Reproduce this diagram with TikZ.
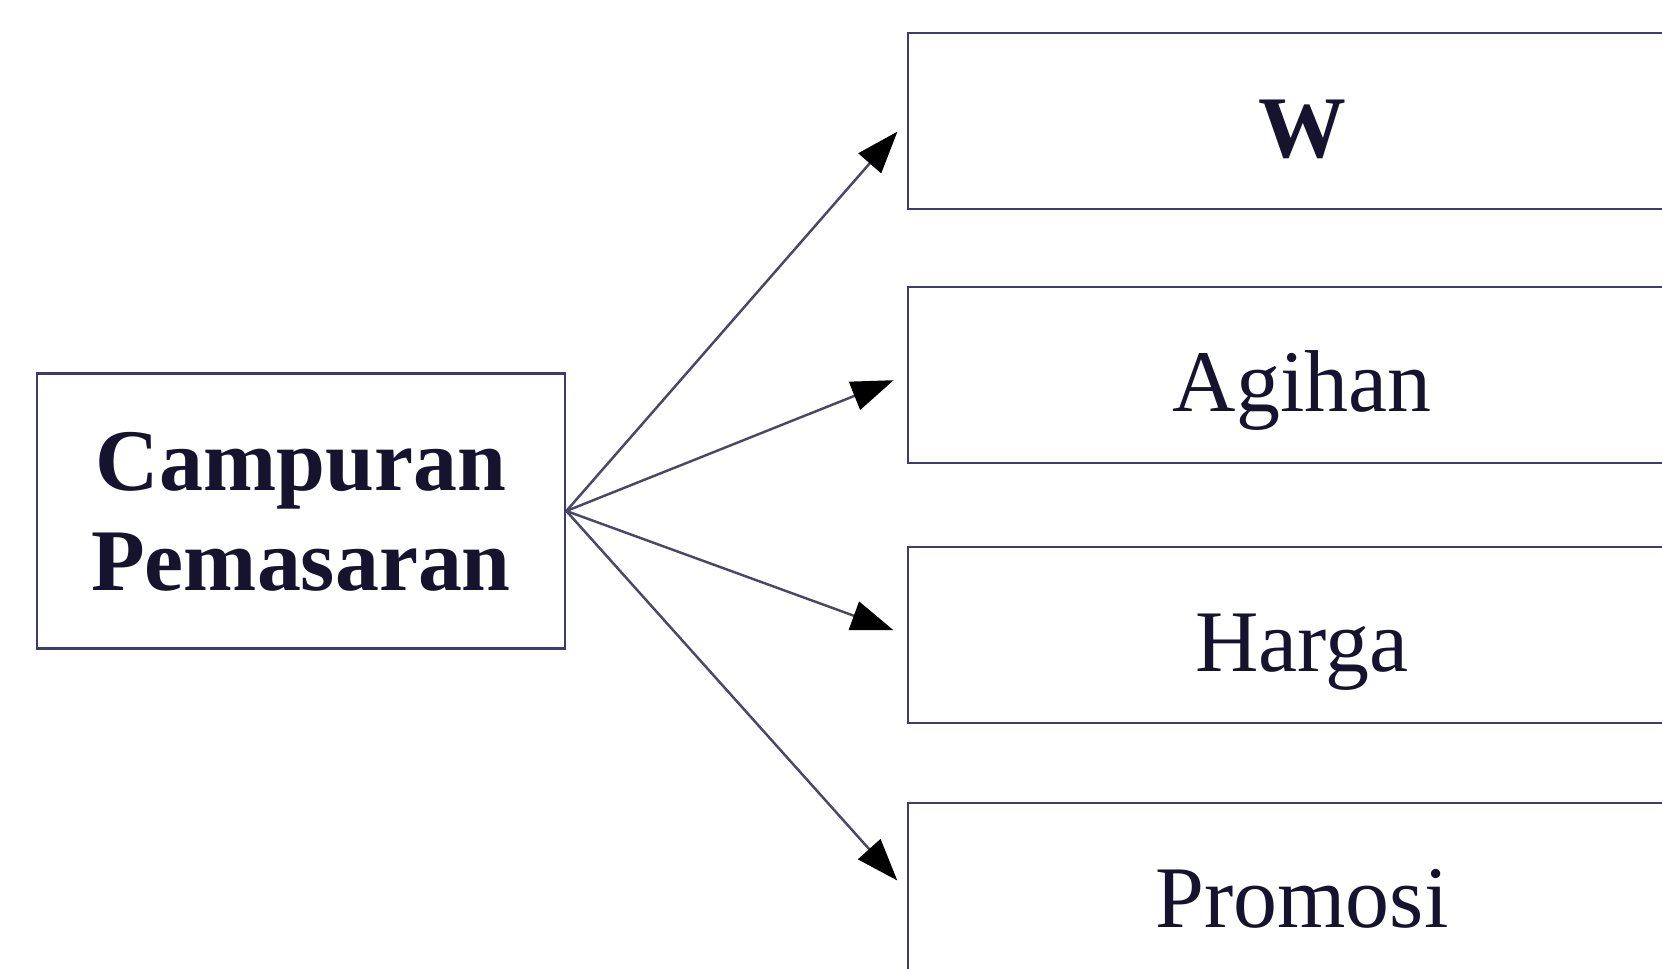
\documentclass[tikz,border=0pt]{standalone}
\usepackage{fontspec}
\setmainfont{Liberation Serif}
\usetikzlibrary{arrows.meta}
\definecolor{boxline}{HTML}{3E3B6E}
\definecolor{linecol}{HTML}{4A4866}
\definecolor{inkcol}{HTML}{15132E}

\begin{document}
\begin{tikzpicture}[x=0.02cm,y=0.02cm,>={Triangle[length=24pt,width=17pt,color=black]},
  mixbox/.style={draw=boxline,line width=1.6pt,inner sep=0pt,minimum width=10.56cm,minimum height=5.5cm,
    align=center,text depth=-0.3cm,text=inkcol,font=\fontsize{50}{57}\selectfont\bfseries},
  partbox/.style={draw=boxline,line width=1.6pt,inner sep=0pt,minimum width=15.76cm,minimum height=3.52cm,
    text height=1.45cm,text depth=0pt,text=inkcol,font=\fontsize{50}{57}\selectfont},
  link/.style={->,draw=linecol,line width=1.4pt,shorten >=8pt}]
\useasboundingbox (0,0) rectangle (1662,969);
\clip (0,0) rectangle (1662,969);
% The source box
\node[mixbox] (mix) at (301,458) {Campuran\\Pemasaran};
% The four parts
\node[partbox] (w) at (1302,848) {\textbf{W}};
\node[partbox] (agihan) at (1302,594) {Agihan};
\node[partbox] (harga) at (1302,334) {Harga};
\node[partbox] (promosi) at (1302,78) {Promosi};
% The arrows
\foreach \part in {w,agihan,harga,promosi}
  \draw[link] (mix.east) -- (\part.west);
\end{tikzpicture}
\end{document}
